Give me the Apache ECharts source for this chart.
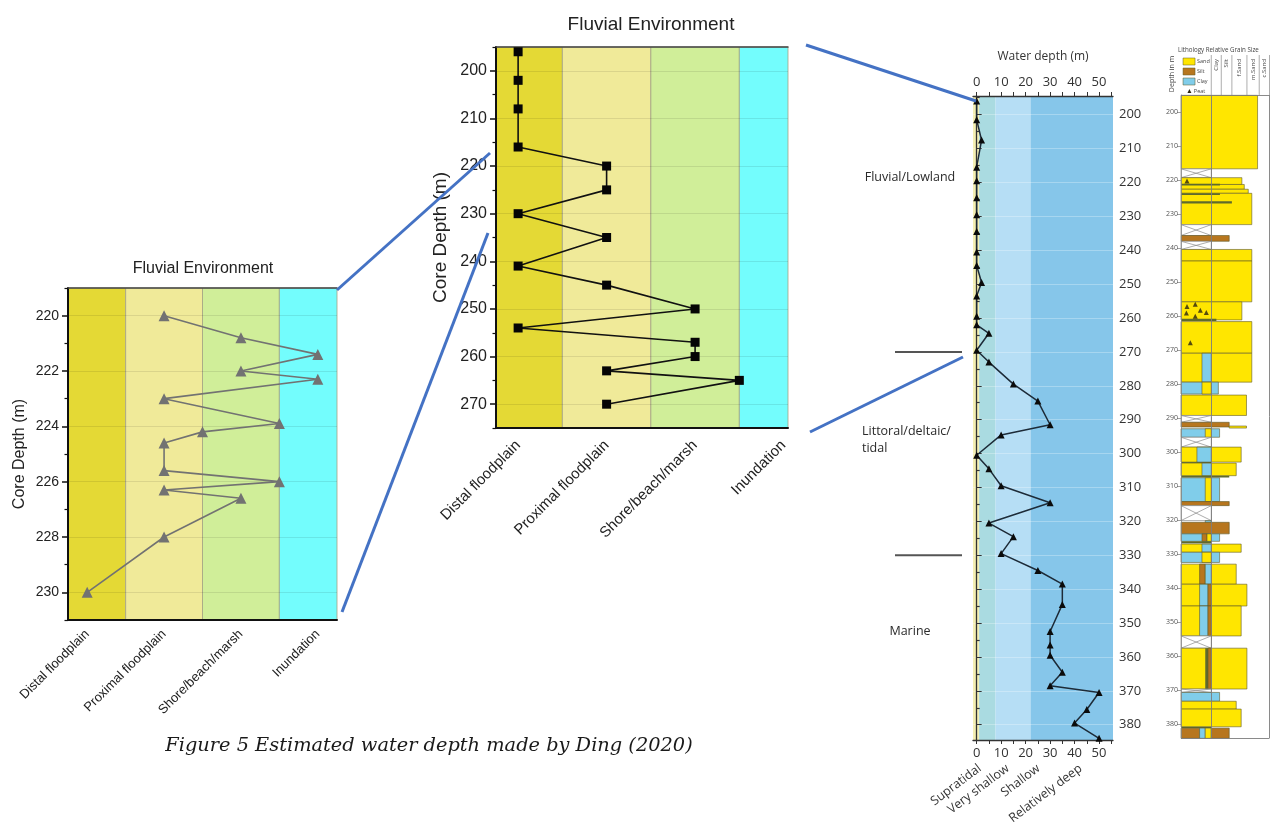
<!DOCTYPE html>
<html>
<head>
<meta charset="utf-8">
<script src="https://cdn.jsdelivr.net/npm/echarts@6/dist/echarts.min.js"></script>
<style>
  html, body { margin: 0; padding: 0; background: #ffffff; }
  #main { width: 1276px; height: 823px; }
</style>
</head>
<body>
<div id="main"></div>
<script>
// ---------- Depositional environment classes (x position 1..4) ----------
const envNames = ['Distal floodplain', 'Proximal floodplain', 'Shore/beach/marsh', 'Inundation'];
const envPositions = [1, 2, 3, 4];
const envBands = [[0.75, 1.5], [1.5, 2.5], [2.5, 3.5], [3.5, 4.25]];
const envColors = ['#e4d935', '#f0ea99', '#d0ee99', '#73fdfd'];

// ---------- Detailed interval 220-230 m ----------
const detailDepth = [220, 220.8, 221.4, 222, 222.3, 223, 223.9, 224.2, 224.6, 225.6, 226, 226.3, 226.6, 228, 230];
const detailEnv   = [2, 3, 4, 3, 4, 2, 3.5, 2.5, 2, 2, 3.5, 2, 3, 2, 1];
const detailTicks = [220, 222, 224, 226, 228, 230];
const detailMinorTicks = [219, 221, 223, 225, 227, 229, 231];

// ---------- Fluvial section 196-270 m ----------
const fluvialDepth = [196, 202, 208, 216, 220, 225, 230, 235, 241, 245, 250, 254, 257, 260, 263, 265, 270];
const fluvialEnv   = [1, 1, 1, 1, 2, 2, 1, 2, 1, 2, 3, 1, 3, 3, 2, 3.5, 2];
const fluvialTicks = [200, 210, 220, 230, 240, 250, 260, 270];
const fluvialMinorTicks = [195, 205, 215, 225, 235, 245, 255, 265, 275];

// ---------- Water depth log ----------
const wdDepth = [196, 201.5, 207.5, 215.5, 219.5, 224.5, 229.5, 234.5, 240.5, 244.5, 249.5, 253.5, 259.5, 262, 264.5,
  269.5, 273, 279.5, 284.5, 291.5, 294.5, 300.5, 304.5, 309.5, 314.5, 320.5, 324.5, 329.5, 334.5, 338.5,
  344.5, 352.5, 356.5, 359.5, 364.5, 368.5, 370.5, 375.5, 379.5, 384];
const wdValue = [0, 0, 2, 0, 0, 0, 0, 0, 0, 0, 2, 0, 0, 0, 5,
  0, 5, 15, 25, 30, 10, 0, 5, 10, 30, 5, 15, 10, 25, 35,
  35, 30, 30, 30, 35, 30, 50, 45, 40, 50];
const wdTicks = [0, 10, 20, 30, 40, 50];
const wdMinorTicks = [0, 5, 10, 15, 20, 25, 30, 35, 40, 45, 50, 55];
const coreDepthTicks = [200, 210, 220, 230, 240, 250, 260, 270, 280, 290, 300, 310, 320, 330, 340, 350, 360, 370, 380];
const coreMinorTicks = [195, 205, 215, 225, 235, 245, 255, 265, 275, 285, 295, 305, 315, 325, 335, 345, 355, 365, 375];
const wdBands = [[-1.5, 1], [1, 7.7], [7.7, 22], [22, 55.7]];
const wdBandColors = ['#f4efb3', '#aadbe1', '#b6def5', '#86c6ea'];
const wdBandNames = ['Supratidal', 'Very shallow', 'Shallow', 'Relatively deep'];

// ---------- Facies units ----------
const faciesNames = ['Fluvial/Lowland', 'Littoral/deltaic/\ntidal', 'Marine'];
const faciesLabelDepth = [218.5, 296, 352.5];
const faciesBoundaries = [270, 330];

// ---------- Lithology log: [top, base, from, to, kind] (x in relative width units 0-100) ----------
const lithoKinds = ['sand', 'silt', 'clay', 'lam', 'gap'];
const beds = [
  [195.1, 216.7, 0, 86.5, 'sand'],
  [216.7, 219.3, 0, 34.2, 'gap'],
  [219.3, 221.3, 0, 68.8, 'sand'],
  [221.3, 222.7, 0, 71.5, 'sand'],
  [222.7, 223.9, 0, 76, 'sand'],
  [223.9, 233.1, 0, 80, 'sand'],
  [221.1, 221.6, 0, 44, 'lam'],
  [223.9, 224.4, 0, 44, 'lam'],
  [226.2, 226.9, 0, 57.5, 'lam'],
  [233.1, 236.3, 0, 34.2, 'gap'],
  [236.3, 238.0, 0, 54.5, 'silt'],
  [238.0, 240.4, 0, 34.2, 'gap'],
  [240.4, 243.8, 0, 80, 'sand'],
  [243.8, 255.8, 0, 80, 'sand'],
  [255.8, 261.1, 0, 68.8, 'sand'],
  [260.8, 261.4, 0, 40, 'lam'],
  [261.6, 270.9, 0, 80, 'sand'],
  [270.9, 279.4, 0, 80, 'sand'],
  [270.9, 279.4, 23.7, 34.2, 'clay'],
  [279.4, 282.9, 0, 42.2, 'clay'],
  [279.4, 282.9, 23.7, 34.2, 'sand'],
  [283.2, 289.2, 0, 74, 'sand'],
  [289.2, 291.2, 0, 34.2, 'gap'],
  [291.2, 292.6, 0, 54.5, 'silt'],
  [292.3, 292.9, 54.5, 74, 'sand'],
  [293.1, 295.6, 0, 43.6, 'clay'],
  [293.1, 295.6, 27.4, 34.2, 'sand'],
  [295.6, 298.5, 0, 34.2, 'gap'],
  [298.5, 302.9, 0, 68, 'sand'],
  [298.5, 302.9, 18, 34.2, 'clay'],
  [302.9, 303.3, 0, 34.2, 'lam'],
  [303.2, 306.9, 0, 62.4, 'sand'],
  [303.2, 306.9, 23.7, 34.2, 'clay'],
  [306.9, 307.4, 0, 54.5, 'lam'],
  [307.5, 314.5, 0, 43.6, 'clay'],
  [307.5, 314.5, 27.4, 34.2, 'sand'],
  [314.5, 315.7, 0, 54.5, 'silt'],
  [315.7, 320.1, 0, 34.2, 'gap'],
  [320.1, 320.8, 27.4, 34.2, 'clay'],
  [320.6, 324.0, 0, 54.5, 'silt'],
  [324.0, 326.2, 0, 43.6, 'clay'],
  [324.0, 326.2, 23.7, 29.4, 'silt'],
  [324.0, 326.2, 29.4, 34.2, 'sand'],
  [326.2, 326.8, 0, 34.2, 'lam'],
  [327.0, 329.4, 0, 68, 'sand'],
  [327.0, 329.4, 23.7, 34.2, 'clay'],
  [329.4, 332.4, 0, 43.6, 'clay'],
  [329.4, 332.4, 23.7, 34.2, 'sand'],
  [332.9, 338.8, 0, 62.4, 'sand'],
  [332.9, 338.8, 21, 27.4, 'silt'],
  [332.9, 338.8, 27.4, 34.2, 'clay'],
  [338.8, 345.2, 0, 74.5, 'sand'],
  [338.8, 345.2, 21, 30.5, 'clay'],
  [338.8, 345.2, 30.5, 34.2, 'silt'],
  [345.2, 354.0, 0, 68, 'sand'],
  [345.2, 354.0, 21, 30.5, 'clay'],
  [345.2, 354.0, 30.5, 34.2, 'silt'],
  [354.0, 357.6, 0, 34.2, 'gap'],
  [357.6, 369.6, 0, 74.5, 'sand'],
  [357.6, 369.6, 27.4, 30.5, 'lam'],
  [357.6, 369.6, 30.5, 34.2, 'silt'],
  [369.6, 370.6, 0, 34.2, 'gap'],
  [370.6, 373.2, 0, 43.6, 'clay'],
  [373.2, 375.5, 0, 62.4, 'sand'],
  [375.5, 380.7, 0, 68, 'sand'],
  [380.7, 381.1, 0, 34.2, 'lam'],
  [381.1, 384.1, 0, 21, 'silt'],
  [381.1, 384.1, 21, 27.4, 'clay'],
  [381.1, 384.1, 27.4, 34.2, 'sand'],
  [381.1, 384.1, 34.2, 54.5, 'silt']
];
const peatDepth = [220.3, 257.2, 256.5, 259.1, 258.3, 258.9, 260, 267.8];
const peatPos   = [6.8, 6.8, 16.1, 6.1, 21.8, 28.6, 16.1, 10.5];
const grainColumns = [34.2, 45.5, 57.5, 74.5, 88.4, 100];
const grainNames = ['Clay', 'Silt', 'f.Sand', 'm.Sand', 'c.Sand'];

// ---------- styling ----------
const sansFont = 'Liberation Sans, Arial, sans-serif';
const logFont = 'Open Sans, Lato, sans-serif';
const lithoColors = { sand: '#ffe600', silt: '#b7761e', clay: '#80cdea', lam: '#5f6a2c', gap: '#ffffff' };
const connectorColor = '#4472c4';

const chart = echarts.init(document.getElementById('main'), null, { renderer: 'canvas' });

// filled vertical bands spanning the full depth range of a grid, clipped to the plot area
function bandSeries(xi, yi, bands, colors, yRange, stroke) {
  return {
    type: 'custom', xAxisIndex: xi, yAxisIndex: yi, z: 0, silent: true,
    data: bands.map((b, i) => [b[0], b[1], i]),
    renderItem(params, api) {
      const cs = params.coordSys;
      const i = api.value(2);
      const p0 = api.coord([api.value(0), yRange[0]]);
      const p1 = api.coord([api.value(1), yRange[1]]);
      const left = Math.max(cs.x, p0[0]);
      const right = Math.min(cs.x + cs.width, p1[0]);
      return {
        type: 'rect',
        shape: { x: left, y: Math.min(p0[1], p1[1]), width: right - left, height: Math.abs(p1[1] - p0[1]) },
        style: { fill: colors[i], stroke: stroke || null, lineWidth: stroke ? 0.8 : 0 }
      };
    }
  };
}

function envXAxis(grid, max, fontSize, margin) {
  return {
    type: 'value', gridIndex: grid, position: 'bottom', min: 0.75, max: max, z: 1,
    axisLine: { show: true, lineStyle: { color: '#111', width: 2 } },
    axisTick: { show: false, customValues: envPositions },
    splitLine: { show: false },
    axisLabel: {
      customValues: envPositions, rotate: 45, fontSize: fontSize, fontFamily: sansFont, color: '#222', margin: margin,
      formatter: v => envNames[Math.round(v) - 1] || ''
    }
  };
}
function topLine(grid, max) {
  return {
    type: 'value', gridIndex: grid, position: 'top', min: 0.75, max: max, z: 1,
    axisLine: { show: true, lineStyle: { color: '#444', width: 1.5 } },
    axisTick: { show: false }, axisLabel: { show: false }, splitLine: { show: false }
  };
}
function depthAxis(grid, min, max, ticks, fontSize, name, nameGap, nameSize) {
  return {
    type: 'value', gridIndex: grid, position: 'left', inverse: true, min: min, max: max, z: 1,
    name: name, nameLocation: 'middle', nameGap: nameGap,
    nameTextStyle: { fontSize: nameSize, fontFamily: sansFont, color: '#222' },
    axisLine: { show: true, lineStyle: { color: '#111', width: 2 } },
    axisTick: { show: true, customValues: ticks, length: 6, lineStyle: { color: '#111', width: 1.5 } },
    axisLabel: { customValues: ticks, fontSize: fontSize, fontFamily: sansFont, color: '#222', margin: 9 },
    splitLine: { show: true, lineStyle: { color: 'rgba(0,0,0,0.09)', width: 1 } }
  };
}
function minorAxis(grid, min, max, ticks, position, len, color) {
  return {
    type: 'value', gridIndex: grid, position: position, inverse: true, min: min, max: max, z: 1,
    axisLine: { show: false },
    axisTick: { show: true, customValues: ticks, length: len, lineStyle: { color: color, width: 1.2 } },
    axisLabel: { show: false }, splitLine: { show: false }
  };
}
function wdXAxis(position, name) {
  return {
    type: 'value', gridIndex: 2, position: position, min: -1.5, max: 55.7, z: 1,
    name: name, nameLocation: 'middle', nameGap: 33,
    nameTextStyle: { fontSize: 12, fontFamily: logFont, color: '#333' },
    axisLine: { show: true, lineStyle: { color: '#333', width: 1.3 } },
    axisTick: { show: true, customValues: wdMinorTicks, length: 4, lineStyle: { color: '#333' } },
    axisLabel: { customValues: wdTicks, fontSize: 13, fontFamily: logFont, color: '#333', margin: 7 },
    splitLine: { show: false }
  };
}

const option = {
  animation: false,
  backgroundColor: '#ffffff',
  grid: [
    { left: 68, top: 288, width: 269, height: 332 },
    { left: 496, top: 47, width: 292, height: 381 },
    { left: 973, top: 96, width: 140, height: 644 },
    { left: 1181, top: 95, width: 88.5, height: 643 }
  ],
  xAxis: [
    envXAxis(0, 4.25, 13, 12),
    topLine(0, 4.25),
    envXAxis(1, 4.05, 15, 15),
    topLine(1, 4.05),
    wdXAxis('top', 'Water depth (m)'),
    wdXAxis('bottom', ''),
    { type: 'value', gridIndex: 3, min: 0, max: 100, show: false }
  ],
  yAxis: [
    depthAxis(0, 219, 231, detailTicks, 14, 'Core Depth (m)', 40, 16),
    minorAxis(0, 219, 231, detailMinorTicks, 'left', 3.5, '#111'),
    depthAxis(1, 195, 275, fluvialTicks, 16, 'Core Depth (m)', 46, 19),
    minorAxis(1, 195, 275, fluvialMinorTicks, 'left', 3.5, '#111'),
    {
      type: 'value', gridIndex: 2, position: 'right', inverse: true, min: 194.5, max: 384.5, z: 1,
      axisLine: { show: true, lineStyle: { color: '#333', width: 1.3 } },
      axisTick: { show: true, customValues: coreDepthTicks, length: 5, lineStyle: { color: '#333' } },
      axisLabel: { customValues: coreDepthTicks, fontSize: 13, fontFamily: logFont, color: '#333', margin: 6 },
      splitLine: { show: true, lineStyle: { color: 'rgba(255,255,255,0.28)', width: 1 } }
    },
    minorAxis(2, 194.5, 384.5, coreMinorTicks, 'right', 3, '#333'),
    {
      type: 'value', gridIndex: 3, position: 'left', inverse: true, min: 195, max: 384, z: 3,
      axisLine: { show: true, lineStyle: { color: '#888', width: 0.8 } },
      axisTick: { show: true, customValues: coreDepthTicks, length: 4, lineStyle: { color: '#888', width: 0.8 } },
      axisLabel: { customValues: coreDepthTicks, fontSize: 7, fontFamily: logFont, color: '#555', margin: 3 },
      splitLine: { show: false }
    }
  ],
  series: [
    bandSeries(0, 0, envBands, envColors, [219, 231], '#a4a283'),
    bandSeries(2, 2, envBands, envColors, [195, 275], '#a4a283'),
    bandSeries(4, 4, wdBands, wdBandColors, [194.5, 384.5], null),
    {
      type: 'line', xAxisIndex: 0, yAxisIndex: 0, z: 3,
      data: detailDepth.map((d, i) => [detailEnv[i], d]),
      symbol: 'triangle', symbolSize: 11,
      itemStyle: { color: '#727272' },
      lineStyle: { color: '#727272', width: 1.6 }
    },
    {
      type: 'line', xAxisIndex: 2, yAxisIndex: 2, z: 3,
      data: fluvialDepth.map((d, i) => [fluvialEnv[i], d]),
      symbol: 'rect', symbolSize: 9,
      itemStyle: { color: '#050505' },
      lineStyle: { color: '#111', width: 1.6 }
    },
    {
      type: 'line', xAxisIndex: 4, yAxisIndex: 4, z: 3,
      data: wdDepth.map((d, i) => [wdValue[i], d]),
      symbol: 'triangle', symbolSize: 7,
      itemStyle: { color: '#0b0b0b' },
      lineStyle: { color: '#1d2b38', width: 1.5 }
    },
    {
      type: 'custom', xAxisIndex: 6, yAxisIndex: 6, z: 2, silent: true,
      data: beds.map(b => [b[0], b[1], b[2], b[3], lithoKinds.indexOf(b[4])]),
      renderItem(params, api) {
        const kind = lithoKinds[api.value(4)];
        const p0 = api.coord([api.value(2), api.value(0)]);
        const p1 = api.coord([api.value(3), api.value(1)]);
        const r = { x: p0[0], y: p0[1], width: p1[0] - p0[0], height: p1[1] - p0[1] };
        if (kind === 'gap') {
          return {
            type: 'group', children: [
              { type: 'rect', shape: r, style: { fill: '#ffffff', stroke: '#8a8a8a', lineWidth: 0.7 } },
              { type: 'line', shape: { x1: r.x, y1: r.y, x2: r.x + r.width, y2: r.y + r.height }, style: { stroke: '#8a8a8a', lineWidth: 0.7 } },
              { type: 'line', shape: { x1: r.x, y1: r.y + r.height, x2: r.x + r.width, y2: r.y }, style: { stroke: '#8a8a8a', lineWidth: 0.7 } }
            ]
          };
        }
        return {
          type: 'rect', shape: r,
          style: { fill: lithoColors[kind], stroke: kind === 'lam' ? null : 'rgba(95,90,40,0.85)', lineWidth: 0.7 }
        };
      },
      markLine: {
        silent: true, symbol: 'none', label: { show: false },
        lineStyle: { color: '#7d7d7d', width: 0.9, type: 'solid' },
        data: [{ xAxis: grainColumns[0] }, { xAxis: 100 }, { yAxis: 195 }, { yAxis: 384 }]
      }
    },
    {
      type: 'scatter', xAxisIndex: 6, yAxisIndex: 6, z: 4, silent: true,
      data: peatDepth.map((d, i) => [peatPos[i], d]),
      symbol: 'triangle', symbolSize: 5,
      itemStyle: { color: '#2a2410' }
    }
  ]
};

chart.setOption(option);

// ---------- annotation layer ----------
function text(x, y, str, font, opts) {
  opts = opts || {};
  return {
    type: 'text', x: x, y: y, rotation: opts.rotation || 0, z: 10, silent: true,
    style: {
      text: str, font: font, fill: opts.fill || '#222',
      align: opts.align || 'center', textAlign: opts.align || 'center',
      verticalAlign: opts.valign || 'middle', textVerticalAlign: opts.valign || 'middle',
      lineHeight: opts.lineHeight
    }
  };
}
function line(x1, y1, x2, y2, color, width) {
  return { type: 'line', z: 10, silent: true, shape: { x1, y1, x2, y2 }, style: { stroke: color, lineWidth: width } };
}

// caption font size fitted to its line width
const captionText = 'Figure 5 Estimated water depth made by Ding (2020)';
const measureCtx = document.createElement('canvas').getContext('2d');
measureCtx.font = 'italic 20px DejaVu Serif';
const captionSize = Math.min(20, 20 * 528 / measureCtx.measureText(captionText).width);

const wdX = v => chart.convertToPixel({ xAxisIndex: 4 }, v);
const wdY = d => chart.convertToPixel({ yAxisIndex: 4 }, d);
const lithoX = v => chart.convertToPixel({ xAxisIndex: 6 }, v);

const graphics = [
  text(203, 269, 'Fluvial Environment', '16px ' + sansFont),
  text(651, 25, 'Fluvial Environment', '19px ' + sansFont),
  text(429, 746, captionText, 'italic ' + captionSize.toFixed(2) + 'px DejaVu Serif', { fill: '#1a1a1a' }),
  // connectors between the panels
  line(337, 290, 490, 153, connectorColor, 3),
  line(342, 612, 488, 233, connectorColor, 3),
  line(806, 45, 976, 101, connectorColor, 3),
  line(810, 432, 963, 357, connectorColor, 3)
];

// facies units beside the water depth log
faciesBoundaries.forEach(d => graphics.push(line(895, wdY(d), 962, wdY(d), '#555555', 2)));
faciesNames.forEach((n, i) => {
  const multi = n.indexOf('\n') >= 0;
  graphics.push(text(multi ? 862 : 910, wdY(faciesLabelDepth[i]), n, '12.5px ' + logFont,
    { align: multi ? 'left' : 'center', fill: '#2a2a2a', lineHeight: 17 }));
});

// water depth class names under the log
const zoneEnds = [1.3, 12.7, 25.3, 42.5];
wdBandNames.forEach((n, i) => {
  graphics.push(text(wdX(zoneEnds[i]), 767, n, '12.5px ' + logFont,
    { align: 'right', rotation: 37 * Math.PI / 180, fill: '#333' }));
});

// lithology header
const hdrTop = 55, hdrBase = 95;
graphics.push(text(lithoX(-3.5), 50, 'Lithology', '6.2px ' + logFont, { align: 'left', fill: '#444' }));
graphics.push(text(lithoX(28), 50, 'Relative Grain Size', '6.2px ' + logFont, { align: 'left', fill: '#444' }));
graphics.push(text(1172, 74, 'Depth in m', '7px ' + logFont, { rotation: Math.PI / 2, fill: '#444' }));
grainColumns.forEach(c => graphics.push(line(lithoX(c), hdrTop, lithoX(c), hdrBase, '#8a8a8a', 0.7)));
grainNames.forEach((n, i) => {
  const cx = (lithoX(grainColumns[i]) + lithoX(grainColumns[i + 1])) / 2;
  graphics.push(text(cx, 59, n, '6px ' + logFont, { align: 'right', rotation: Math.PI / 2, fill: '#444' }));
});
const legendKinds = ['sand', 'silt', 'clay'];
const legendNames = ['Sand', 'Silt', 'Clay'];
legendKinds.forEach((k, i) => {
  graphics.push({
    type: 'rect', z: 10, silent: true,
    shape: { x: lithoX(2.3), y: 58 + i * 10, width: 12, height: 7 },
    style: { fill: lithoColors[k], stroke: 'rgba(95,90,40,0.85)', lineWidth: 0.6 }
  });
  graphics.push(text(lithoX(18), 61.5 + i * 10, legendNames[i], '5.5px ' + logFont, { align: 'left', fill: '#444' }));
});
graphics.push({
  type: 'polygon', z: 10, silent: true,
  shape: { points: [[lithoX(9.5), 89], [lithoX(7.3), 93], [lithoX(11.7), 93]] },
  style: { fill: '#2a2410' }
});
graphics.push(text(lithoX(14.5), 91.2, 'Peat', '5.5px ' + logFont, { align: 'left', fill: '#444' }));

chart.setOption({ graphic: graphics });
</script>
</body>
</html>
